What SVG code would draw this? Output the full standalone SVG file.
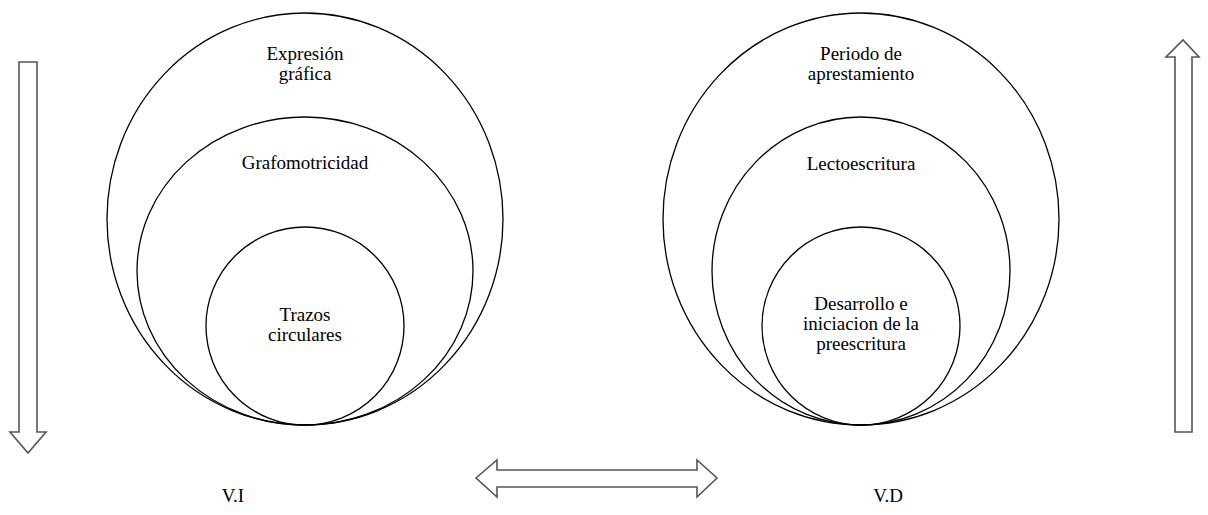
<svg xmlns="http://www.w3.org/2000/svg" width="1208" height="515" viewBox="0 0 1208 515">
<style>
.c{fill:none;stroke:#000;stroke-width:1.3}
.a{fill:#fff;stroke:#555;stroke-width:1.6}
text{font-family:'Liberation Serif','Times New Roman','DejaVu Serif',serif;font-size:19px;fill:#000;text-anchor:middle}
</style>
<rect width="1208" height="515" fill="#fff"/>
<g id="left-outer"><ellipse class="c" cx="305" cy="219" rx="198" ry="206"/>
<text x="305" y="60">Expresión</text><text x="305" y="80">gráfica</text></g>
<g id="left-middle"><ellipse class="c" cx="305" cy="271" rx="168" ry="154"/>
<text x="305" y="169">Grafomotricidad</text></g>
<g id="left-inner"><circle class="c" cx="305" cy="326" r="99"/>
<text x="305" y="321">Trazos</text><text x="305" y="341">circulares</text></g>
<g id="right-outer"><ellipse class="c" cx="861" cy="219" rx="198" ry="206"/>
<text x="861" y="60">Periodo de</text><text x="861" y="80">aprestamiento</text></g>
<g id="right-middle"><ellipse class="c" cx="861" cy="271" rx="149" ry="154"/>
<text x="861" y="170">Lectoescritura</text></g>
<g id="right-inner"><circle class="c" cx="861" cy="326" r="99"/>
<text x="861" y="310">Desarrollo e</text><text x="861" y="330">iniciacion de la</text><text x="861" y="350">preescritura</text></g>
<g id="connectors">
<path class="a" d="M19,62 H37 V432 H46 L28,453 L10,432 H19 Z"/>
<path class="a" d="M1175,432 V57 H1166 L1183,40 L1199,57 H1192 V432 Z"/>
<path class="a" d="M476,478 L497,460 V470 H697 V460 L717,478 L697,497 V487 H497 V497 Z"/>
</g>
<g id="labels">
<text x="233" y="502">V.I</text>
<text x="888" y="502">V.D</text>
</g>
</svg>
